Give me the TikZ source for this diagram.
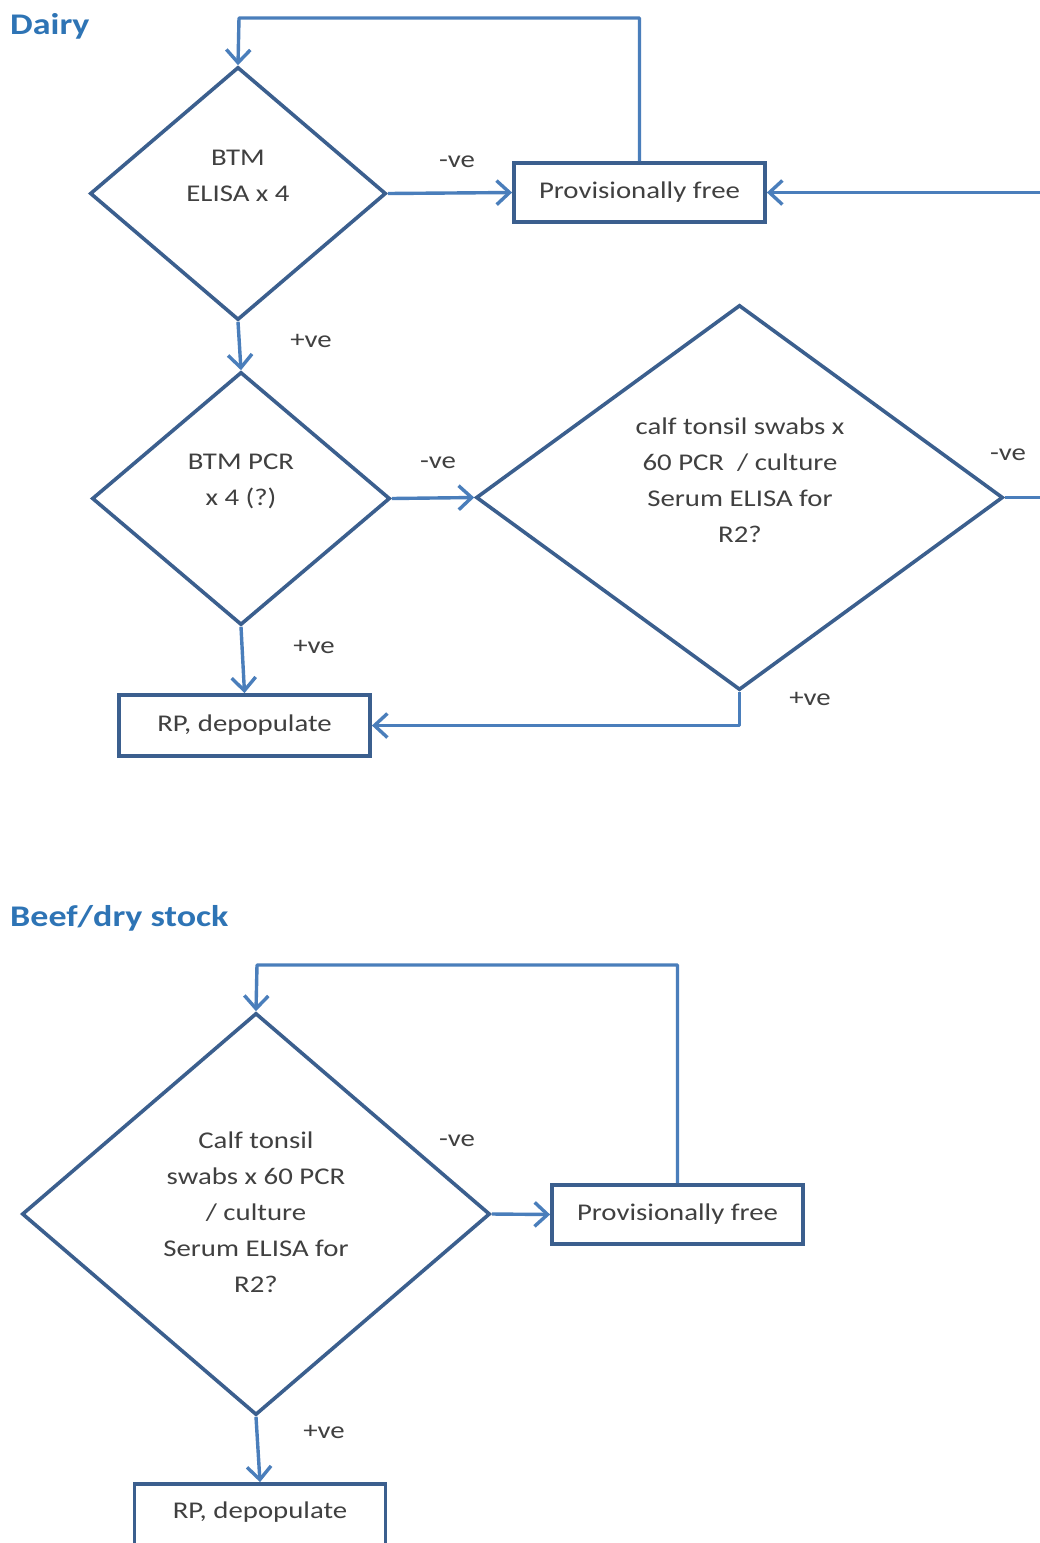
\documentclass[tikz,border=0pt]{standalone}
\usepackage{fontspec}
\setmainfont{Carlito}[FakeStretch=1.2]
\usetikzlibrary{shapes.geometric,arrows.meta}
\definecolor{shapeblue}{HTML}{3B5F8E}
\definecolor{linkblue}{HTML}{4A7EBB}
\definecolor{titleblue}{HTML}{2E74B5}
\definecolor{txtgray}{HTML}{404040}
\begin{document}
\begin{tikzpicture}[x=1pt,y=-1pt,
  diam/.style={diamond, draw=shapeblue, line width=3.6pt, inner sep=0pt, aspect=1},
  box/.style={rectangle, draw=shapeblue, line width=3.8pt, minimum width=251pt, minimum height=59pt, inner sep=0pt, font=\fontsize{24}{36}\selectfont, text=txtgray},
  txt/.style={align=center, font=\fontsize{24}{36}\selectfont, text=txtgray, inner sep=0pt},
  lbl/.style={font=\fontsize{24}{36}\selectfont, text=txtgray, inner sep=0pt},
  title/.style={font=\fontsize{30}{36}\selectfont\bfseries, text=titleblue, anchor=base west, inner sep=0pt},
  link/.style={draw=linkblue, line width=3.4pt, line join=round, -{Straight Barb[length=13pt,width=24pt]}}
]
\useasboundingbox (0,0) rectangle (1040,1543);
\fill[white] (0,0) rectangle (1040,1543);
\clip (0,0) rectangle (1040,1543);

% ---------- Dairy ----------
\node[title] (t1) at (10,34) {Dairy};
\node[diam, minimum width=296pt, minimum height=253pt] (d1) at (238,193.5) {};
\node[txt] (d1t) at (238,176) {BTM\\ELISA x 4};
\node[box] (p1) at (639.5,192.5) {Provisionally free};
\node[diam, minimum width=298pt, minimum height=253pt] (d2) at (241,498.5) {};
\node[txt] (d2t) at (241,481) {BTM PCR\\x 4 (?)};
\node[diam, minimum width=527pt, minimum height=385pt] (d3) at (739.5,497.5) {};
\node[txt] (d3t) at (740,480) {calf tonsil swabs x\\60 PCR~ / culture\\Serum ELISA for\\R2?};
\node[box, minimum height=61pt] (r1) at (244.5,725.5) {RP, depopulate};

\node[lbl] (l1) at (457,162) {-ve};
\node[lbl] (l2) at (311,341) {+ve};
\node[lbl] (l3) at (438,463) {-ve};
\node[lbl] (l4) at (314,647) {+ve};
\node[lbl] (l5) at (1008,455) {-ve};
\node[lbl] (l6) at (810,699) {+ve};

\coordinate (c1) at (239,18);
\coordinate (c2) at (1046,497.5);
\draw[link] (p1.north) |- (c1) -- (d1.north);
\draw[link] (d1.east) -- (p1.west);
\draw[link] (d1.south) -- (d2.north);
\draw[link] (d2.east) -- (d3.west);
\draw[link] (d3.east) -- (c2) |- (p1.east);
\draw[link] (d2.south) -- (r1.north);
\draw[link] (d3.south) |- (r1.east);

% ---------- Beef/dry stock ----------
\node[title] (t2) at (10,926) {Beef/dry stock};
\node[diam, minimum width=468pt, minimum height=402pt] (d4) at (256,1214) {};
\node[txt] (d4t) at (256,1212) {Calf tonsil\\swabs x 60 PCR\\/ culture\\Serum ELISA for\\R2?};
\node[box] (p2) at (677.5,1214.5) {Provisionally free};
\node[box, minimum height=66pt] (r2) at (260,1517) {};
\node[lbl] (r2t) at (260,1512) {RP, depopulate};
\node[lbl] (l7) at (457,1141) {-ve};
\node[lbl] (l8) at (324,1432) {+ve};

\coordinate (c3) at (257,965);
\draw[link] (p2.north) |- (c3) -- (d4.north);
\draw[link] (d4.east) -- (p2.west);
\draw[link] (d4.south) -- (r2.north);
\end{tikzpicture}
\end{document}
